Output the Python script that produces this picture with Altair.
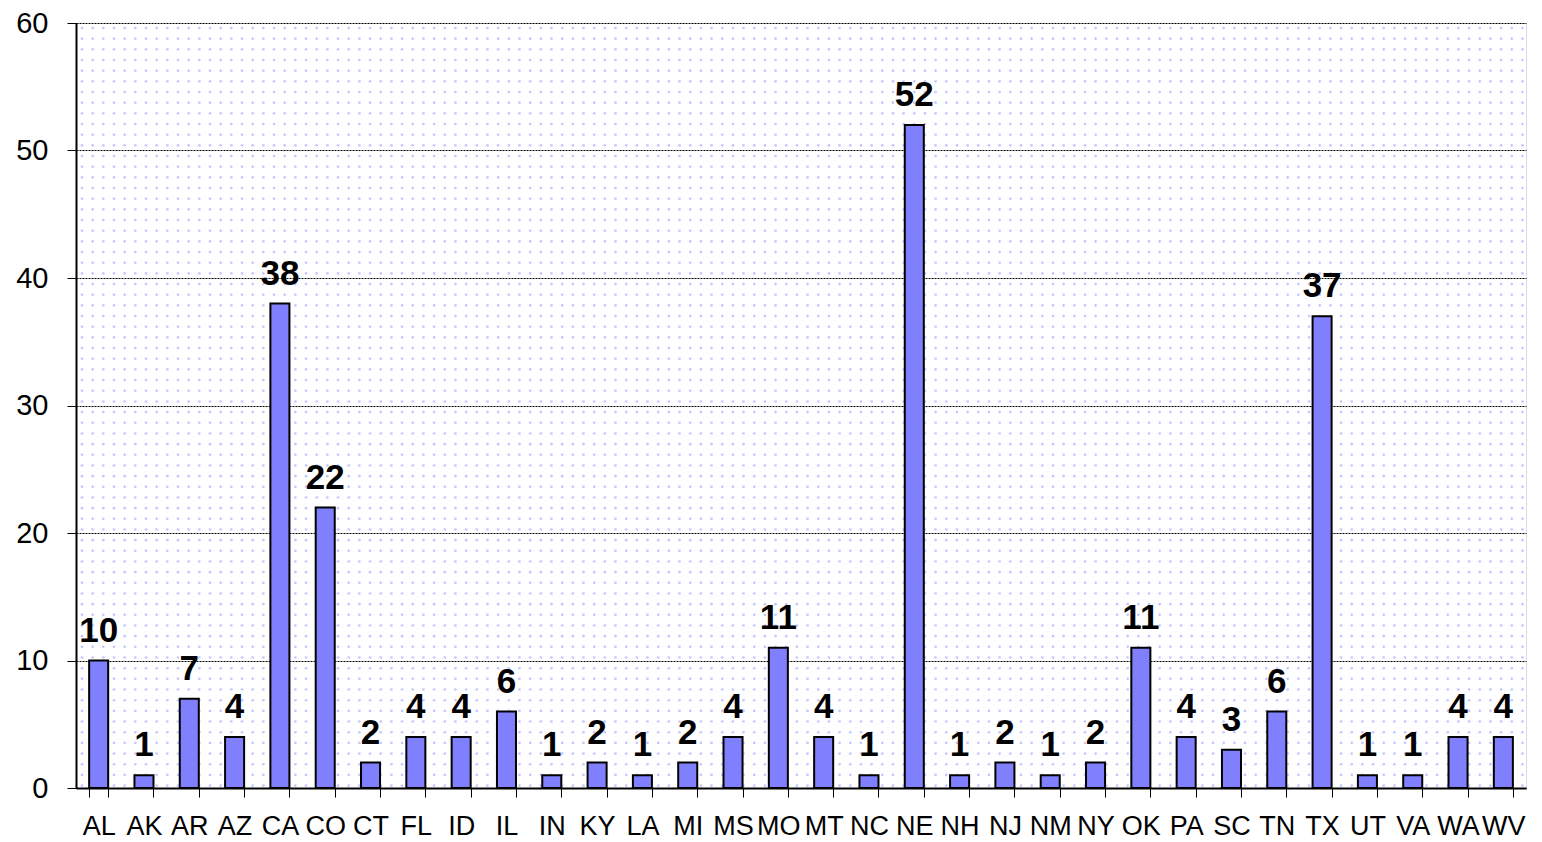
import altair as alt
import pandas as pd

states = ["AL","AK","AR","AZ","CA","CO","CT","FL","ID","IL","IN","KY","LA","MI","MS","MO",
          "MT","NC","NE","NH","NJ","NM","NY","OK","PA","SC","TN","TX","UT","VA","WA","WV"]
counts = [10,1,7,4,38,22,2,4,4,6,1,2,1,2,4,11,4,1,52,1,2,1,2,11,4,3,6,37,1,1,4,4]

df = pd.DataFrame({"state": states, "count": counts})

W, H = 1450, 765
FONT = "Liberation Sans"

x = alt.X("state:N", sort=states, title=None,
          scale=alt.Scale(paddingInner=0.58, paddingOuter=0.29),
          axis=alt.Axis(labelAngle=0, labelFontSize=27, labelColor="black", labelFont=FONT,
                        tickBand="extent", tickSize=9, tickColor="black", tickWidth=1,
                        domainColor="black", domainWidth=2, labelPadding=16, grid=False))
y = alt.Y("count:Q", title=None,
          scale=alt.Scale(domain=[0, 60], nice=False),
          axis=alt.Axis(values=[0,10,20,30,40,50,60], labelFontSize=29, labelFont=FONT,
                        labelColor="black", tickSize=9, tickColor="black", tickWidth=1,
                        domainColor="black", domainWidth=2, labelPadding=19,
                        grid=True, gridColor="black", gridDash=[2, 1], gridWidth=1))

# decorative dotted background texture
dots = alt.Chart(alt.sequence(0, 136 * 72, as_="i")).transform_calculate(
    cx="(datum.i % 136) * 10.67 + 6",
    cy="floor(datum.i / 136) * 10.67 + 5",
).mark_circle(size=7, color="#bcbcff", opacity=0.85).encode(
    x=alt.X("cx:Q", axis=None, scale=alt.Scale(domain=[0, W], nice=False)),
    y=alt.Y("cy:Q", axis=None, scale=alt.Scale(domain=[H, 0], nice=False)),
)

base = alt.Chart(df)
bars = base.mark_bar(color="#8080ff", stroke="black", strokeWidth=2).encode(x=x, y=y)
labels = base.mark_text(fontSize=35, fontWeight="bold", font=FONT, baseline="alphabetic",
                        dy=-19, color="black").encode(x=x, y=y, text="count:Q")

main = alt.layer(bars, labels)

chart = alt.layer(dots, main).resolve_scale(x="independent", y="independent").properties(
    width=W, height=H,
    autosize=alt.AutoSizeParams(type="none"),
    padding={"left": 68, "top": 15, "right": 8, "bottom": 60},
).configure_view(stroke="#808080", strokeWidth=2.5).configure(background="white")

chart.save("out.html", embed_options={"renderer": "svg", "actions": False})
